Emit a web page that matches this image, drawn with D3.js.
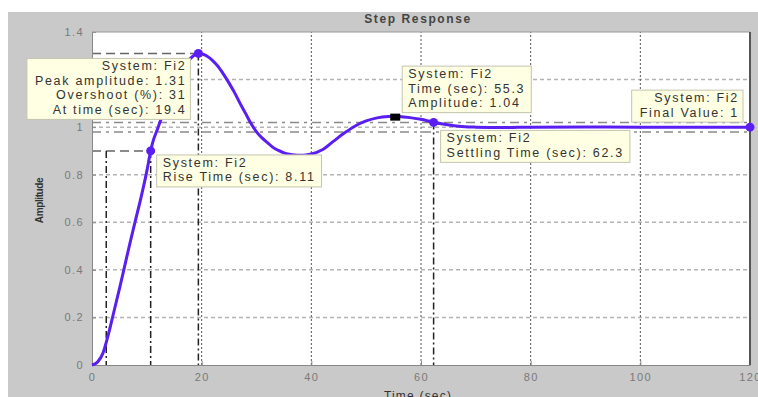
<!DOCTYPE html>
<html>
<head>
<meta charset="utf-8">
<script src="https://cdn.jsdelivr.net/npm/d3@7"></script>
<style>
  body { margin: 0; background: #fff; overflow: hidden; }
  svg text { font-family: Arial, "Liberation Sans", sans-serif; }
</style>
</head>
<body>
<div id="chart"></div>
<script>
// Step response of Fi2
const timeSec = [0, 1, 2, 3, 4, 5, 6, 7, 8, 9, 10, 10.7, 11, 12, 13, 14, 15, 16, 17, 18, 19, 19.4, 20,
  21, 22, 23, 24, 25, 26, 27, 28, 29, 30, 31, 32, 33, 34, 35, 36, 37, 38, 39, 40, 42, 44, 46, 48,
  50, 52, 54, 55.3, 56, 58, 60, 62, 64, 66, 68, 70, 75, 80, 90, 100, 110, 120];
const amplitude = [0, 0.012, 0.05, 0.13, 0.225, 0.32, 0.42, 0.52, 0.615, 0.71, 0.815, 0.9, 0.93, 0.995,
  1.06, 1.12, 1.175, 1.22, 1.26, 1.29, 1.307, 1.31, 1.309,
  1.298, 1.28, 1.255, 1.222, 1.185, 1.145, 1.1, 1.058, 1.015, 0.98, 0.955, 0.935, 0.915, 0.902,
  0.892, 0.886, 0.883, 0.882, 0.883, 0.887, 0.905, 0.94, 0.975, 1.005,
  1.026, 1.039, 1.045, 1.046, 1.045, 1.04, 1.033, 1.022, 1.013, 1.006, 1.002, 1.0, 0.998, 1.0, 1.001, 1.0, 1.0, 1.0];

const xTicks = [0, 20, 40, 60, 80, 100, 120];
const yTicks = [0, 0.2, 0.4, 0.6, 0.8, 1, 1.2, 1.4];
const settleBand = [0.98, 1.02];

// characteristics shown as data tips
const peakTip = [19.4, 1.31, 31];        // time, amplitude, overshoot %
const riseTip = [2.6, 10.7, 0.9, 8.11];  // 10% time, 90% time, 90% level, rise time
const settleTip = [62.3, 1.02];          // settling time, level
const pointTip = [55.3, 1.04];           // picked point
const finalTip = [120, 1];               // end time, final value

const width = 758, height = 397;
const margin = { left: 92, right: 8, top: 32, bottom: 32 };
const lineColor = "#5a1ef2";

const svg = d3.select("#chart").append("svg")
    .attr("width", width)
    .attr("height", height);

// figure background
svg.append("rect")
    .attr("x", 8).attr("y", 12)
    .attr("width", width - 8).attr("height", height - 12)
    .attr("fill", "#c9c9c9");

const x = d3.scaleLinear().domain([0, 120]).range([margin.left, width - margin.right]);
const y = d3.scaleLinear().domain([0, 1.4]).range([height - margin.bottom, margin.top]);

// plot area
svg.append("rect")
    .attr("x", x(0)).attr("y", y(1.4))
    .attr("width", x(120) - x(0)).attr("height", y(0) - y(1.4))
    .attr("fill", "#fff");

// grid
svg.append("g").selectAll("line")
    .data(yTicks.slice(1, -1))
    .join("line")
    .attr("x1", x(0)).attr("x2", x(120))
    .attr("y1", d => y(d)).attr("y2", d => y(d))
    .attr("stroke", "#b4b4b4")
    .attr("stroke-width", 1.5)
    .attr("stroke-dasharray", "4,3");

svg.append("g").selectAll("line")
    .data(xTicks.slice(1, -1))
    .join("line")
    .attr("x1", d => x(d)).attr("x2", d => x(d))
    .attr("y1", y(0)).attr("y2", y(1.4))
    .attr("stroke", "#555")
    .attr("stroke-width", 1)
    .attr("stroke-dasharray", "2,2");

// characteristic lines
const chars = svg.append("g");

function hLine(v, t0, t1, color, dash) {
    chars.append("line")
        .attr("x1", x(t0)).attr("x2", x(t1))
        .attr("y1", y(v)).attr("y2", y(v))
        .attr("stroke", color)
        .attr("stroke-width", 1.5)
        .attr("stroke-dasharray", dash);
}
function vLine(t, v) {
    chars.append("line")
        .attr("x1", x(t)).attr("x2", x(t))
        .attr("y1", y(v)).attr("y2", y(0))
        .attr("stroke", "#222")
        .attr("stroke-width", 1.5)
        .attr("stroke-dasharray", "7,3,2,3");
}

settleBand.forEach(v => hLine(v, 0, 120, "#8a8a8a", "9,5,3,5"));
hLine(peakTip[1], 0, peakTip[0], "#666", "9,5");
hLine(riseTip[2], 0, riseTip[1], "#666", "9,5");
vLine(peakTip[0], peakTip[1]);
vLine(riseTip[0], riseTip[2]);
vLine(riseTip[1], riseTip[2]);
vLine(settleTip[0], settleTip[1]);

// axes
const axisColor = "#888";
const yAxis = svg.append("g")
    .attr("transform", `translate(${x(0)},0)`)
    .call(d3.axisLeft(y).tickValues(yTicks).tickSizeInner(-4).tickSizeOuter(0).tickPadding(8)
        .tickFormat(d => d));
const xAxis = svg.append("g")
    .attr("transform", `translate(0,${y(0)})`)
    .call(d3.axisBottom(x).tickValues(xTicks).tickSizeInner(-4).tickSizeOuter(0).tickPadding(8));

[yAxis, xAxis].forEach(a => {
    a.select(".domain").attr("stroke", axisColor);
    a.selectAll(".tick line").attr("stroke", axisColor);
    a.selectAll(".tick text")
        .attr("fill", "#7a7a7a")
        .attr("font-size", "11px")
        .attr("letter-spacing", "1.4px");
});

// top and right border
svg.append("line")
    .attr("x1", x(0)).attr("x2", x(120)).attr("y1", y(1.4)).attr("y2", y(1.4))
    .attr("stroke", "#999");
svg.append("line")
    .attr("x1", x(120)).attr("x2", x(120)).attr("y1", y(1.4)).attr("y2", y(0))
    .attr("stroke", "#555").attr("stroke-width", 2);

// titles
svg.append("text")
    .attr("x", (x(0) + x(120)) / 2 - 3).attr("y", 23)
    .attr("text-anchor", "middle")
    .attr("font-size", "12px").attr("font-weight", "bold")
    .attr("letter-spacing", "1.6px")
    .attr("fill", "#444")
    .text("Step Response");

svg.append("text")
    .attr("x", (x(0) + x(120)) / 2 - 3).attr("y", 400)
    .attr("text-anchor", "middle")
    .attr("font-size", "12px")
    .attr("letter-spacing", "1.2px")
    .attr("fill", "#333")
    .text("Time (sec)");

svg.append("text")
    .attr("transform", `translate(43,${(y(0) + y(1.4)) / 2 + 2}) rotate(-90)`)
    .attr("text-anchor", "middle")
    .attr("font-size", "10px").attr("font-weight", "bold")
    .attr("letter-spacing", "-0.4px")
    .attr("fill", "#333")
    .text("Amplitude");

// response curve
const points = timeSec.map((t, i) => [t, amplitude[i]]);
svg.append("path")
    .datum(points)
    .attr("fill", "none")
    .attr("stroke", lineColor)
    .attr("stroke-width", 3)
    .attr("stroke-linejoin", "round")
    .attr("d", d3.line().x(d => x(d[0])).y(d => y(d[1])).curve(d3.curveMonotoneX));

// markers
const dots = [[peakTip[0], peakTip[1]], [riseTip[1], riseTip[2]], settleTip, finalTip];
svg.append("g").selectAll("circle")
    .data(dots)
    .join("circle")
    .attr("cx", d => x(d[0])).attr("cy", d => y(d[1]))
    .attr("r", 4.5)
    .attr("fill", lineColor);

svg.append("rect")
    .attr("x", x(pointTip[0]) - 5).attr("y", y(pointTip[1]) - 4)
    .attr("width", 10).attr("height", 7)
    .attr("fill", "#000");

// data tip boxes
// corner: the corner of the box near the marker, dx/dy offset from marker
function dataTip(t, v, lines, align, corner, dx, dy) {
    const lineH = 14.5, pad = 5;
    const g = svg.append("g");
    const box = g.append("rect")
        .attr("fill", "#ffffe3")
        .attr("stroke", "#c4c4b0");
    const txt = g.append("text")
        .attr("font-size", "12.5px")
        .attr("letter-spacing", "1.7px")
        .attr("fill", "#333");
    txt.selectAll("tspan")
        .data(lines)
        .join("tspan")
        .attr("x", 0)
        .attr("dy", (d, i) => i === 0 ? 0 : lineH)
        .attr("text-anchor", align === "right" ? "end" : "start")
        .text(d => d);
    const bb = txt.node().getBBox();
    const w = bb.width + 2 * pad + 2, h = lines.length * lineH + 3;
    const px = x(t) + dx, py = y(v) + dy;
    const left = corner.includes("r") ? px - w : px;
    const top = corner.includes("b") ? py - h : py;
    box.attr("x", left).attr("y", top).attr("width", w).attr("height", h);
    const tx = align === "right" ? left + w - pad + 1 : left + pad + 1;
    txt.attr("transform", `translate(${tx},${top + 12})`);
}

dataTip(peakTip[0], peakTip[1],
    ["System: Fi2", `Peak amplitude: ${peakTip[1]}`, `Overshoot (%): ${peakTip[2]}`, `At time (sec): ${peakTip[0]}`],
    "right", "tr", -8, 5);
dataTip(riseTip[1], riseTip[2],
    ["System: Fi2", `Rise Time (sec): ${riseTip[3]}`],
    "left", "tl", 6, 4);
dataTip(pointTip[0], pointTip[1],
    ["System: Fi2", `Time (sec): ${pointTip[0]}`, `Amplitude: ${pointTip[1]}`],
    "left", "bl", 7, -5);
dataTip(settleTip[0], settleTip[1],
    ["System: Fi2", `Settling Time (sec): ${settleTip[0]}`],
    "left", "tl", 7, 8);
dataTip(finalTip[0], finalTip[1],
    ["System: Fi2", `Final Value: ${finalTip[1]}`],
    "right", "br", -7, -5);
</script>
</body>
</html>
